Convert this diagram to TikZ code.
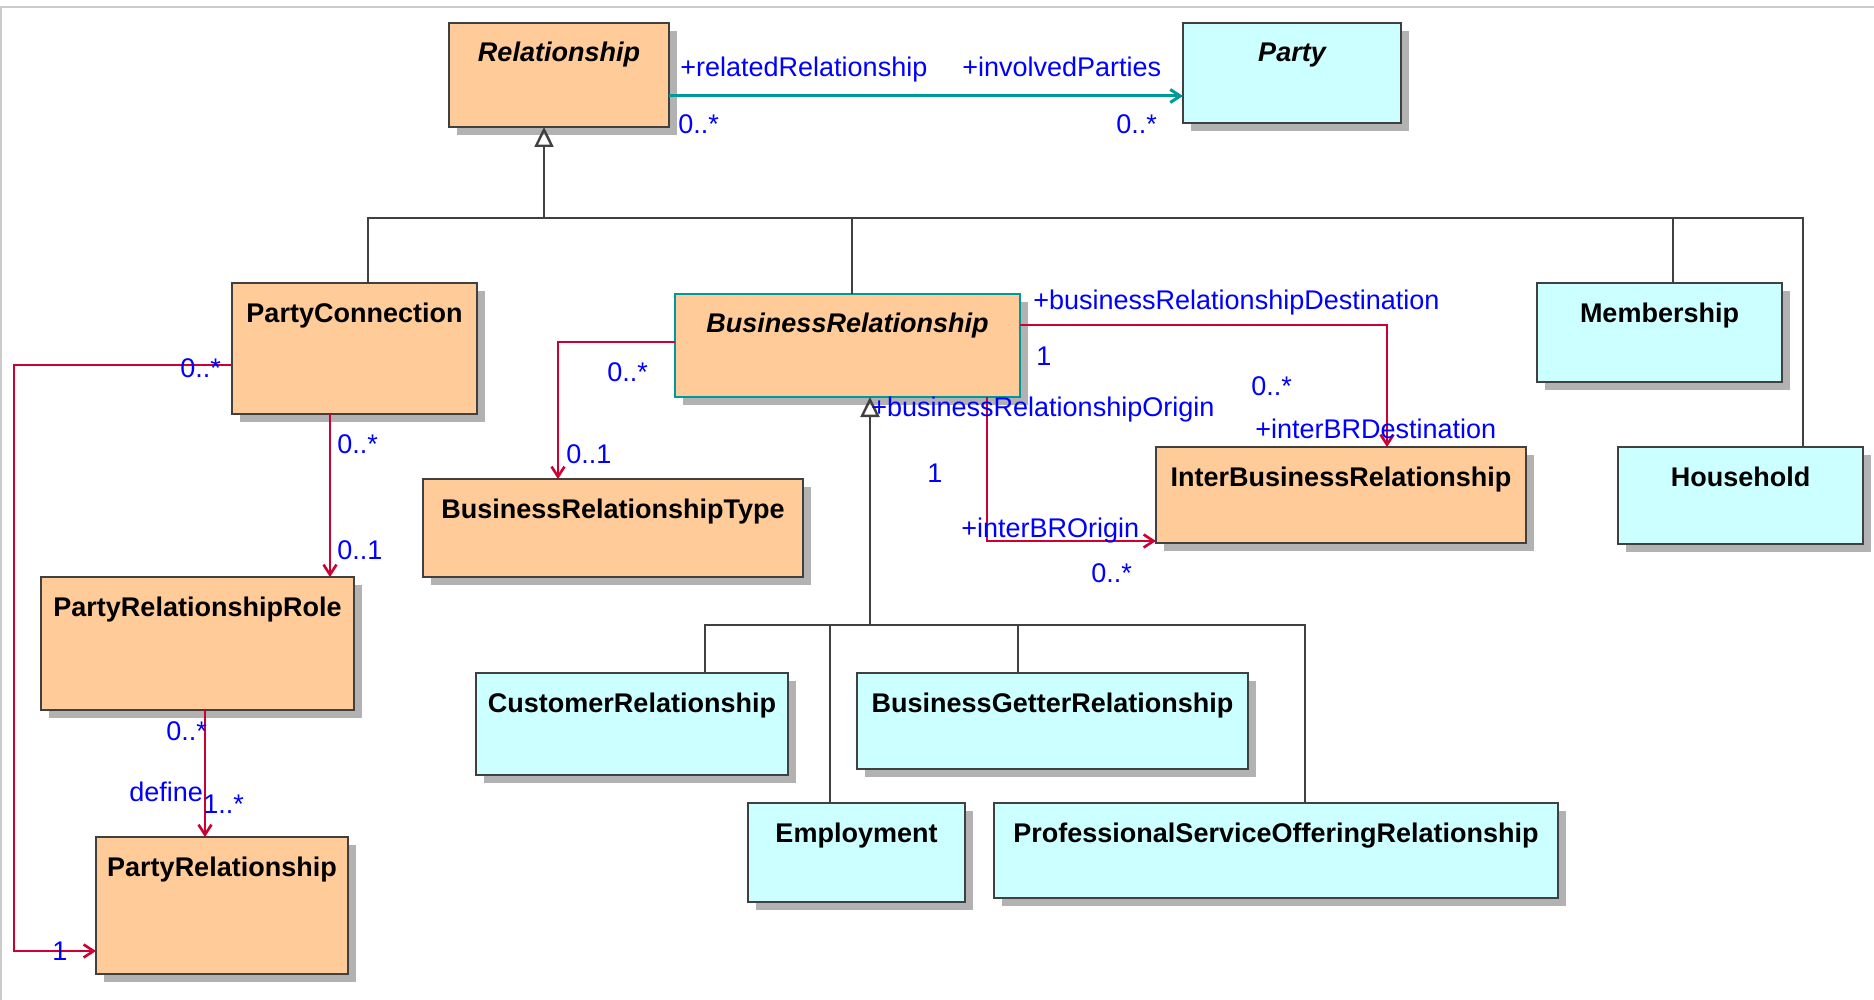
\documentclass[tikz,border=0pt]{standalone}
\usepackage{fontspec}
\setmainfont{Liberation Sans}
\usepackage{tikz}
\usetikzlibrary{arrows.meta}
\usetikzlibrary{shadows}
\definecolor{peach}{RGB}{255,204,153}
\definecolor{aqua}{RGB}{204,255,255}
\definecolor{edge}{RGB}{64,64,64}
\definecolor{shade}{RGB}{178,178,178}
\definecolor{crimson}{RGB}{204,0,51}
\definecolor{sea}{RGB}{0,153,153}
\definecolor{rim}{RGB}{204,204,204}
\newcommand{\umlsize}{\fontsize{13.5}{16}\selectfont}
\tikzset{cls/.style 2 args = {draw = edge, line width = 1.4pt, inner sep = 0, outer sep = 0, anchor = north west,
                              font = \umlsize\bfseries, minimum width = #1,
                              text height = 19.5pt, text depth = #2,
                              drop shadow = {shadow xshift = 4pt, shadow yshift = -4pt, fill = shade, opacity = 1}}}
\tikzset{lbl/.style = {text = blue, font = \umlsize, inner sep = 0, anchor = base west}}
\tikzset{assoc/.style = {draw = crimson, line width = 1.3pt, -{Straight Barb[length = 5pt, width = 6.5pt]}}}
\tikzset{nav/.style = {draw = sea, line width = 1.5pt, -{Straight Barb[length = 5pt, width = 6.5pt]}}}
\tikzset{tree/.style = {draw = edge, line width = 1.2pt}}
\tikzset{gen/.style = {tree, -{Triangle[open, length = 10pt, width = 9.5pt]}}}

\begin{document}
\begin{tikzpicture}[x = 0.5pt, y = -0.5pt]
    \useasboundingbox (0, 0) rectangle (1874, 1000);
    \draw [rim, line width = 0.6pt] (1, 1000) -- (1, 7) -- (1874, 7);

    \node [cls = {110pt}{32.5pt}, fill = peach, font = \umlsize\bfseries\itshape] (rel) at (449, 23) {Relationship};
    \node [cls = {109pt}{30.5pt}, fill = aqua, font = \umlsize\bfseries\itshape] (party) at (1183, 23) {Party};
    \node [cls = {122.5pt}{46pt}, fill = peach] (pcon) at (232, 283) {PartyConnection};
    \node [cls = {172.5pt}{32pt}, fill = peach, draw = sea, font = \umlsize\bfseries\itshape] (brel) at (675, 294) {BusinessRelationship};
    \node [cls = {122.5pt}{30pt}, fill = aqua] (memb) at (1537, 283) {Membership};
    \node [cls = {122.5pt}{29pt}, fill = aqua] (hhold) at (1618, 447) {Household};
    \node [cls = {190pt}{29.5pt}, fill = peach] (brtype) at (423, 479) {BusinessRelationshipType};
    \node [cls = {185pt}{28.5pt}, fill = peach] (interbr) at (1156, 447) {InterBusinessRelationship};
    \node [cls = {156.5pt}{47pt}, fill = peach] (prrole) at (41, 577) {PartyRelationshipRole};
    \node [cls = {126pt}{49pt}, fill = peach] (prel) at (96, 837) {PartyRelationship};
    \node [cls = {156pt}{31.5pt}, fill = aqua] (cust) at (476, 673) {CustomerRelationship};
    \node [cls = {195.5pt}{28.5pt}, fill = aqua] (bgetter) at (857, 673) {BusinessGetterRelationship};
    \node [cls = {108.5pt}{30pt}, fill = aqua] (empl) at (748, 803) {Employment};
    \node [cls = {282pt}{28pt}, fill = aqua] (psor) at (994, 803) {ProfessionalServiceOfferingRelationship};

    \coordinate (bus1) at (544, 218);
    \coordinate (bus2) at (870, 625);
    \draw [gen] (bus1) -- ([xshift = -7.5pt] rel.south);
    \draw [tree] ([xshift = 6.75pt] pcon.north) |- (bus1);
    \draw [tree] ([xshift = 2.25pt] brel.north) |- (bus1);
    \draw [tree] ([xshift = 6.75pt] memb.north) |- (bus1);
    \draw [tree] ([xshift = 31.25pt] hhold.north) |- (bus1);
    \draw [gen] (bus2) -- ([xshift = 11.25pt] brel.south);
    \draw [tree] ([xshift = 36.5pt] cust.north) |- (bus2);
    \draw [tree] ([xshift = -13.25pt] empl.north) |- (bus2);
    \draw [tree] ([xshift = -17.25pt] bgetter.north) |- (bus2);
    \draw [tree] ([xshift = 14.5pt] psor.north) |- (bus2);

    \draw [nav] ([yshift = -10.5pt] rel.east) -- ([yshift = -11.5pt] party.west);
    \draw [assoc] ([yshift = -8.25pt] pcon.west) -- ++(-218, 0) |- ([yshift = -22.75pt] prel.west);
    \draw [assoc] ([xshift = -12.25pt] pcon.south) -- ([xshift = 66.25pt] prrole.north);
    \draw [assoc] ([xshift = 3.75pt] prrole.south) -- ([xshift = -8.5pt] prel.north);
    \draw [assoc] ([yshift = 1.75pt] brel.west) -| ([xshift = -27.5pt] brtype.north);
    \draw [assoc] ([yshift = 10.25pt] brel.east) -| ([xshift = 23pt] interbr.north);
    \draw [assoc] ([xshift = 69.75pt] brel.south) |- ([yshift = -23pt] interbr.west);

    \node [lbl] (rr) at (680, 77) {+relatedRelationship};
    \node [lbl] (ip) at (962, 77) {+involvedParties};
    \node [lbl] (rrm) at (678, 134) {0..*};
    \node [lbl] (ipm) at (1116, 134) {0..*};
    \node [lbl] (pcm1) at (180, 378) {0..*};
    \node [lbl] (pcm2) at (337, 453) {0..*};
    \node [lbl] (prrm1) at (337, 559) {0..1};
    \node [lbl] (prrm2) at (166, 740) {0..*};
    \node [lbl] (def) at (129, 801) {define};
    \node [lbl] (prm1) at (203, 813) {1..*};
    \node [lbl] (prm2) at (52, 960) {1};
    \node [lbl] (brm1) at (607, 381) {0..*};
    \node [lbl] (brtm) at (566, 463) {0..1};
    \node [lbl] (brd) at (1033, 309) {+businessRelationshipDestination};
    \node [lbl] (brdm) at (1036, 365) {1};
    \node [lbl] (ibdm) at (1251, 395) {0..*};
    \node [lbl] (ibd) at (1255, 438) {+interBRDestination};
    \node [lbl] (bro) at (871, 416) {+businessRelationshipOrigin};
    \node [lbl] (brom) at (927, 482) {1};
    \node [lbl] (ibo) at (961, 537) {+interBROrigin};
    \node [lbl] (ibom) at (1091, 582) {0..*};
\end{tikzpicture}
\end{document}
